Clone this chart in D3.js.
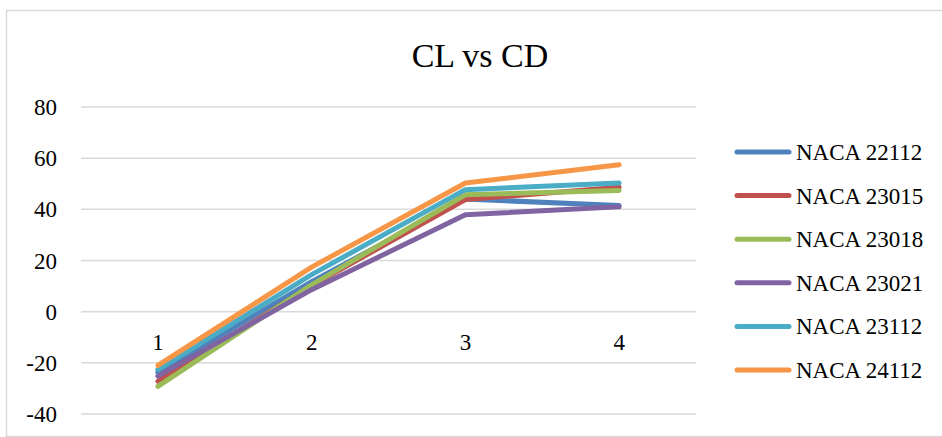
<!DOCTYPE html>
<html><head><meta charset="utf-8">
<script src="https://cdn.jsdelivr.net/npm/d3@7/dist/d3.min.js"></script>
<style>body{margin:0;background:#fff;}svg{display:block;}</style>
</head><body>
<svg id="c" width="942" height="437"></svg>
<script>
const categories = ["1", "2", "3", "4"];
const seriesNames = ["NACA 22112", "NACA 23015", "NACA 23018", "NACA 23021", "NACA 23112", "NACA 24112"];
const naca22112 = [-23.7, 11.7, 44.0, 41.5];
const naca23015 = [-27.2, 10.2, 43.8, 48.6];
const naca23018 = [-29.2, 10.5, 45.7, 47.4];
const naca23021 = [-25.2, 8.6, 37.9, 41.0];
const naca23112 = [-22.7, 14.5, 47.7, 50.3];
const naca24112 = [-21.0, 17.4, 50.3, 57.4];
const yTicks = [-40, -20, 0, 20, 40, 60, 80];
const colors = ["#4F81BD", "#C0504D", "#9BBB59", "#8064A2", "#4BACC6", "#F79646"];
const allSeries = [naca22112, naca23015, naca23018, naca23021, naca23112, naca24112];

const svg = d3.select("#c");
const font = "'Liberation Serif', 'DejaVu Serif', serif";

// chart border
svg.append("rect").attr("x", 6.5).attr("y", 10.5).attr("width", 950).attr("height", 426)
  .attr("fill", "#fff").attr("stroke", "#d9d9d9").attr("stroke-width", 1.5);

const left = 81, right = 696;
const x = d3.scaleBand().domain(categories).range([left, right]);
const y = d3.scaleLinear().domain([-40, 80]).range([414, 107]);

// gridlines
svg.append("g").selectAll("line").data(yTicks).join("line")
  .attr("x1", left).attr("x2", right)
  .attr("y1", d => y(d)).attr("y2", d => y(d))
  .attr("stroke", "#d9d9d9").attr("stroke-width", 1.5);

// y tick labels
svg.append("g").selectAll("text").data(yTicks).join("text")
  .attr("x", 57).attr("y", d => y(d) + 8)
  .attr("text-anchor", "end").attr("font-family", font).attr("font-size", 23)
  .attr("fill", "#000").text(d => d);

// category labels (axis crosses at 0)
svg.append("g").selectAll("text").data(categories).join("text")
  .attr("x", d => x(d) + x.bandwidth() / 2).attr("y", y(0) + 38)
  .attr("text-anchor", "middle").attr("font-family", font).attr("font-size", 23)
  .attr("fill", "#000").text(d => d);

// lines
const line = d3.line().x((d, i) => x(categories[i]) + x.bandwidth() / 2).y(d => y(d));
svg.append("g").selectAll("path").data(allSeries).join("path")
  .attr("d", d => line(d)).attr("fill", "none")
  .attr("stroke", (d, i) => colors[i]).attr("stroke-width", 5)
  .attr("stroke-linecap", "round").attr("stroke-linejoin", "round");

// title
svg.append("text").attr("x", 480).attr("y", 67).attr("text-anchor", "middle")
  .attr("font-family", font).attr("font-size", 34).attr("fill", "#000").text("CL vs CD");

// legend
const lg = svg.append("g");
const rows = lg.selectAll("g").data(seriesNames).join("g")
  .attr("transform", (d, i) => `translate(0, ${152 + i * 43.6})`);
rows.append("line").attr("x1", 737).attr("x2", 789).attr("y1", 0).attr("y2", 0)
  .attr("stroke", (d, i) => colors[i]).attr("stroke-width", 5).attr("stroke-linecap", "round");
rows.append("text").attr("x", 796).attr("y", 8).attr("font-family", font).attr("font-size", 23)
  .attr("fill", "#000").text(d => d);
</script>
</body></html>
